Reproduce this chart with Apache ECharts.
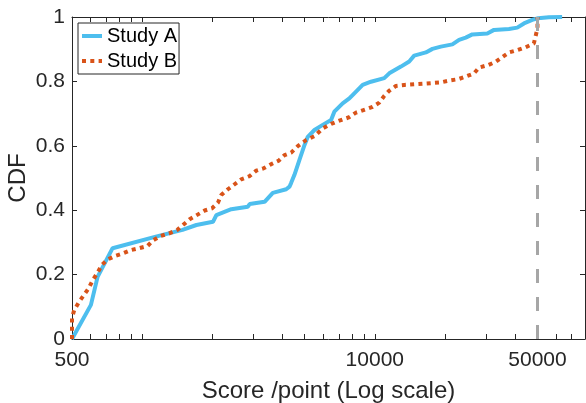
<!DOCTYPE html>
<html>
<head>
<meta charset="utf-8">
<script src="https://cdn.jsdelivr.net/npm/echarts@6/dist/echarts.min.js"></script>
<style>
  html, body { margin: 0; padding: 0; background: #fff; }
  #chart { width: 586px; height: 403px; }
</style>
</head>
<body>
<div id="chart"></div>
<script>
// Study A (solid blue) CDF samples
const studyAScores = [500, 603, 644, 747, 1146, 1492, 1712, 2017, 2085, 2418, 2848, 2899, 3360, 3646, 4162, 4300, 4372, 4516, 4745, 4985, 5152, 5503, 5973, 6488, 6700, 7276, 7772, 8166, 8866, 9627, 10980, 11535, 12948, 14056, 14762, 16574, 17688, 19215, 21544, 23014, 24582, 26245, 30440, 32517, 37707, 40933, 43730, 47450, 50300, 55960, 63800];
const studyACdf = [0, 0.106, 0.193, 0.282, 0.318, 0.339, 0.354, 0.364, 0.385, 0.403, 0.411, 0.419, 0.426, 0.454, 0.465, 0.473, 0.485, 0.51, 0.556, 0.602, 0.628, 0.649, 0.665, 0.68, 0.706, 0.732, 0.747, 0.763, 0.789, 0.799, 0.81, 0.825, 0.846, 0.862, 0.88, 0.89, 0.901, 0.908, 0.915, 0.929, 0.936, 0.946, 0.949, 0.96, 0.963, 0.967, 0.98, 0.991, 0.996, 0.999, 1.0];

// Study B (dotted orange) CDF samples
const studyBScores = [500, 500, 511, 537, 589, 614, 644, 672, 711, 767, 829, 895, 971, 1056, 1117, 1202, 1308, 1419, 1602, 1858, 1999, 2118, 2189, 2338, 2668, 2899, 3095, 3326, 3589, 3868, 4092, 4372, 4667, 5070, 5503, 5973, 6488, 7043, 7721, 8303, 9104, 9785, 10452, 10980, 11535, 12326, 13380, 16297, 19215, 21000, 22860, 24582, 26690, 28040, 30730, 33070, 35530, 37707, 40933, 44460, 48240, 50000, 50000];
const studyBCdf = [0, 0.065, 0.09, 0.116, 0.157, 0.183, 0.206, 0.23, 0.247, 0.258, 0.266, 0.276, 0.282, 0.289, 0.307, 0.32, 0.328, 0.339, 0.372, 0.399, 0.406, 0.423, 0.447, 0.465, 0.496, 0.506, 0.523, 0.53, 0.543, 0.554, 0.571, 0.579, 0.599, 0.618, 0.63, 0.654, 0.668, 0.678, 0.688, 0.703, 0.713, 0.721, 0.734, 0.755, 0.771, 0.786, 0.789, 0.793, 0.797, 0.803, 0.807, 0.815, 0.825, 0.843, 0.851, 0.861, 0.877, 0.89, 0.897, 0.906, 0.918, 0.965, 1.0];

const thresholdScore = 50000;
const xLabelValues = [500, 10000, 50000];
const xTickValues = [500, 600, 700, 800, 900, 1000, 2000, 3000, 4000, 5000, 6000, 7000, 8000, 9000, 10000, 20000, 30000, 40000, 50000, 60000, 70000, 80000];

const FONT = "Liberation Sans, Arial, Helvetica, sans-serif";
const INK = "#262626";

function zip(xs, ys) {
  return xs.map((x, i) => [x, ys[i]]);
}

const xAxisBase = {
  type: "log",
  logBase: 10,
  min: 500,
  max: 80000,
  axisLine: { show: true, onZero: false, lineStyle: { color: INK, width: 1 } },
  axisTick: { show: true, inside: true, length: 5, customValues: xTickValues, lineStyle: { color: INK } },
  minorTick: { show: false },
  splitLine: { show: false },
};

const yAxisBase = {
  type: "value",
  min: 0,
  max: 1,
  interval: 0.2,
  axisLine: { show: true, lineStyle: { color: INK, width: 1 } },
  axisTick: { show: true, inside: true, length: 5, lineStyle: { color: INK } },
  splitLine: { show: false },
};

const chart = echarts.init(document.getElementById("chart"), null, { renderer: "canvas" });

chart.setOption({
  animation: false,
  backgroundColor: "#fff",
  textStyle: { fontFamily: FONT },
  grid: { left: 72, right: 1, top: 17, bottom: 64, containLabel: false, outerBoundsMode: "none" },
  legend: {
    data: ["Study A", "Study B"],
    orient: "vertical",
    left: 78,
    top: 23,
    itemWidth: 20,
    itemHeight: 20,
    itemGap: 5,
    padding: [3, 2, 3, 2],
    borderColor: INK,
    borderWidth: 1,
    borderRadius: 0,
    backgroundColor: "#fff",
    itemStyle: { opacity: 0, borderWidth: 0 },
    lineStyle: { width: 4 },
    textStyle: { fontFamily: FONT, fontSize: 20, color: "#000" },
  },
  xAxis: [
    {
      ...xAxisBase,
      position: "bottom",
      name: "Score /point (Log scale)",
      nameLocation: "middle",
      nameGap: 40,
      nameMoveOverlap: false,
      nameTextStyle: { fontFamily: FONT, fontSize: 24, color: INK },
      axisLabel: {
        show: true,
        customValues: xLabelValues,
        align: "center",
        alignMinLabel: "center",
        alignMaxLabel: "center",
        hideOverlap: false,
        margin: 11,
        fontFamily: FONT,
        fontSize: 21,
        color: INK,
        formatter: (v) => String(Math.round(v)),
      },
    },
    {
      ...xAxisBase,
      position: "top",
      axisLabel: { show: false },
    },
  ],
  yAxis: [
    {
      ...yAxisBase,
      position: "left",
      name: "CDF",
      nameLocation: "middle",
      nameGap: 42,
      nameMoveOverlap: false,
      nameTextStyle: { fontFamily: FONT, fontSize: 24, color: INK },
      axisLabel: { show: true, margin: 7, fontFamily: FONT, fontSize: 21, color: INK },
    },
    {
      ...yAxisBase,
      position: "right",
      axisLabel: { show: false },
    },
  ],
  series: [
    {
      name: "Study A",
      type: "line",
      xAxisIndex: 0,
      yAxisIndex: 0,
      data: zip(studyAScores, studyACdf),
      symbol: "none",
      lineStyle: { color: "#4DBEEE", width: 4 },
      itemStyle: { color: "#4DBEEE" },
      markLine: {
        silent: true,
        symbol: "none",
        label: { show: false },
        lineStyle: { color: "#A6A6A6", width: 3, type: [14, 14] },
        data: [{ xAxis: thresholdScore }],
      },
      z: 2,
    },
    {
      name: "Study B",
      type: "line",
      xAxisIndex: 0,
      yAxisIndex: 0,
      data: zip(studyBScores, studyBCdf),
      symbol: "none",
      lineStyle: { color: "#D95319", width: 4, type: [4, 4.3] },
      itemStyle: { color: "#D95319" },
      z: 3,
    },
  ],
});
</script>
</body>
</html>
